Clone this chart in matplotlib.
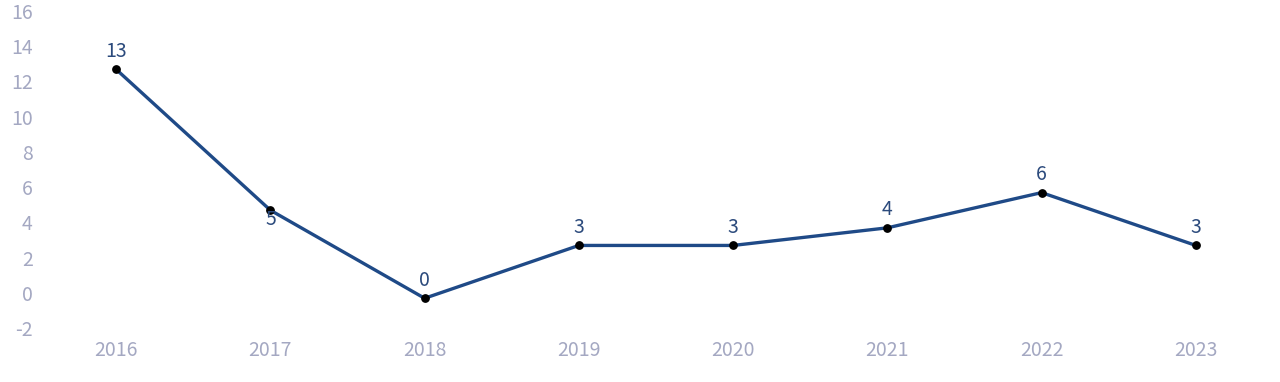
import matplotlib.pyplot as plt
from matplotlib.transforms import ScaledTranslation

plt.rcParams['font.family'] = ['Noto Sans CJK SC', 'DejaVu Sans']

years = ['2016', '2017', '2018', '2019', '2020', '2021', '2022', '2023']
values = [13, 5, 0, 3, 3, 4, 6, 3]
label_below = [False, True, False, False, False, False, False, False]
y_ticks = [-2, 0, 2, 4, 6, 8, 10, 12, 14, 16]

line_color = '#1f4a87'
tick_color = '#a4a8c2'
label_color = '#2b4a7c'

fig = plt.figure(figsize=(12.8, 3.82), dpi=100)
ax = fig.add_axes([39 / 1280, (382 - 333.5) / 382, (1273 - 39) / 1280, 317 / 382])

x = list(range(len(years)))
ax.plot(x, values, color=line_color, linewidth=2.4, zorder=2)
ax.scatter(x, values, s=28, color='black', zorder=3)

for xi, v, below in zip(x, values, label_below):
    dy = -7 if below else 13
    ax.annotate(str(v), (xi, v), xytext=(0, dy), textcoords='offset points',
                ha='center', va='center', fontsize=14, color=label_color)

ax.set_xlim(-0.5, len(years) - 0.5)
ax.set_ylim(-2, 16)
ax.set_xticks(x)
ax.set_xticklabels(years)
ax.set_yticks(y_ticks)
ax.set_yticklabels([str(t) for t in y_ticks])
ax.tick_params(axis='both', length=0, labelsize=14, labelcolor=tick_color)
ax.tick_params(axis='x', pad=5)
ax.tick_params(axis='y', pad=4.5)

# the y tick labels sit a little above their values in the original
offset = ScaledTranslation(0, 5.5 / 100, fig.dpi_scale_trans)
for lbl in ax.get_yticklabels():
    lbl.set_transform(lbl.get_transform() + offset)

for s in ax.spines.values():
    s.set_visible(False)

fig.savefig('out.png', dpi=100)
